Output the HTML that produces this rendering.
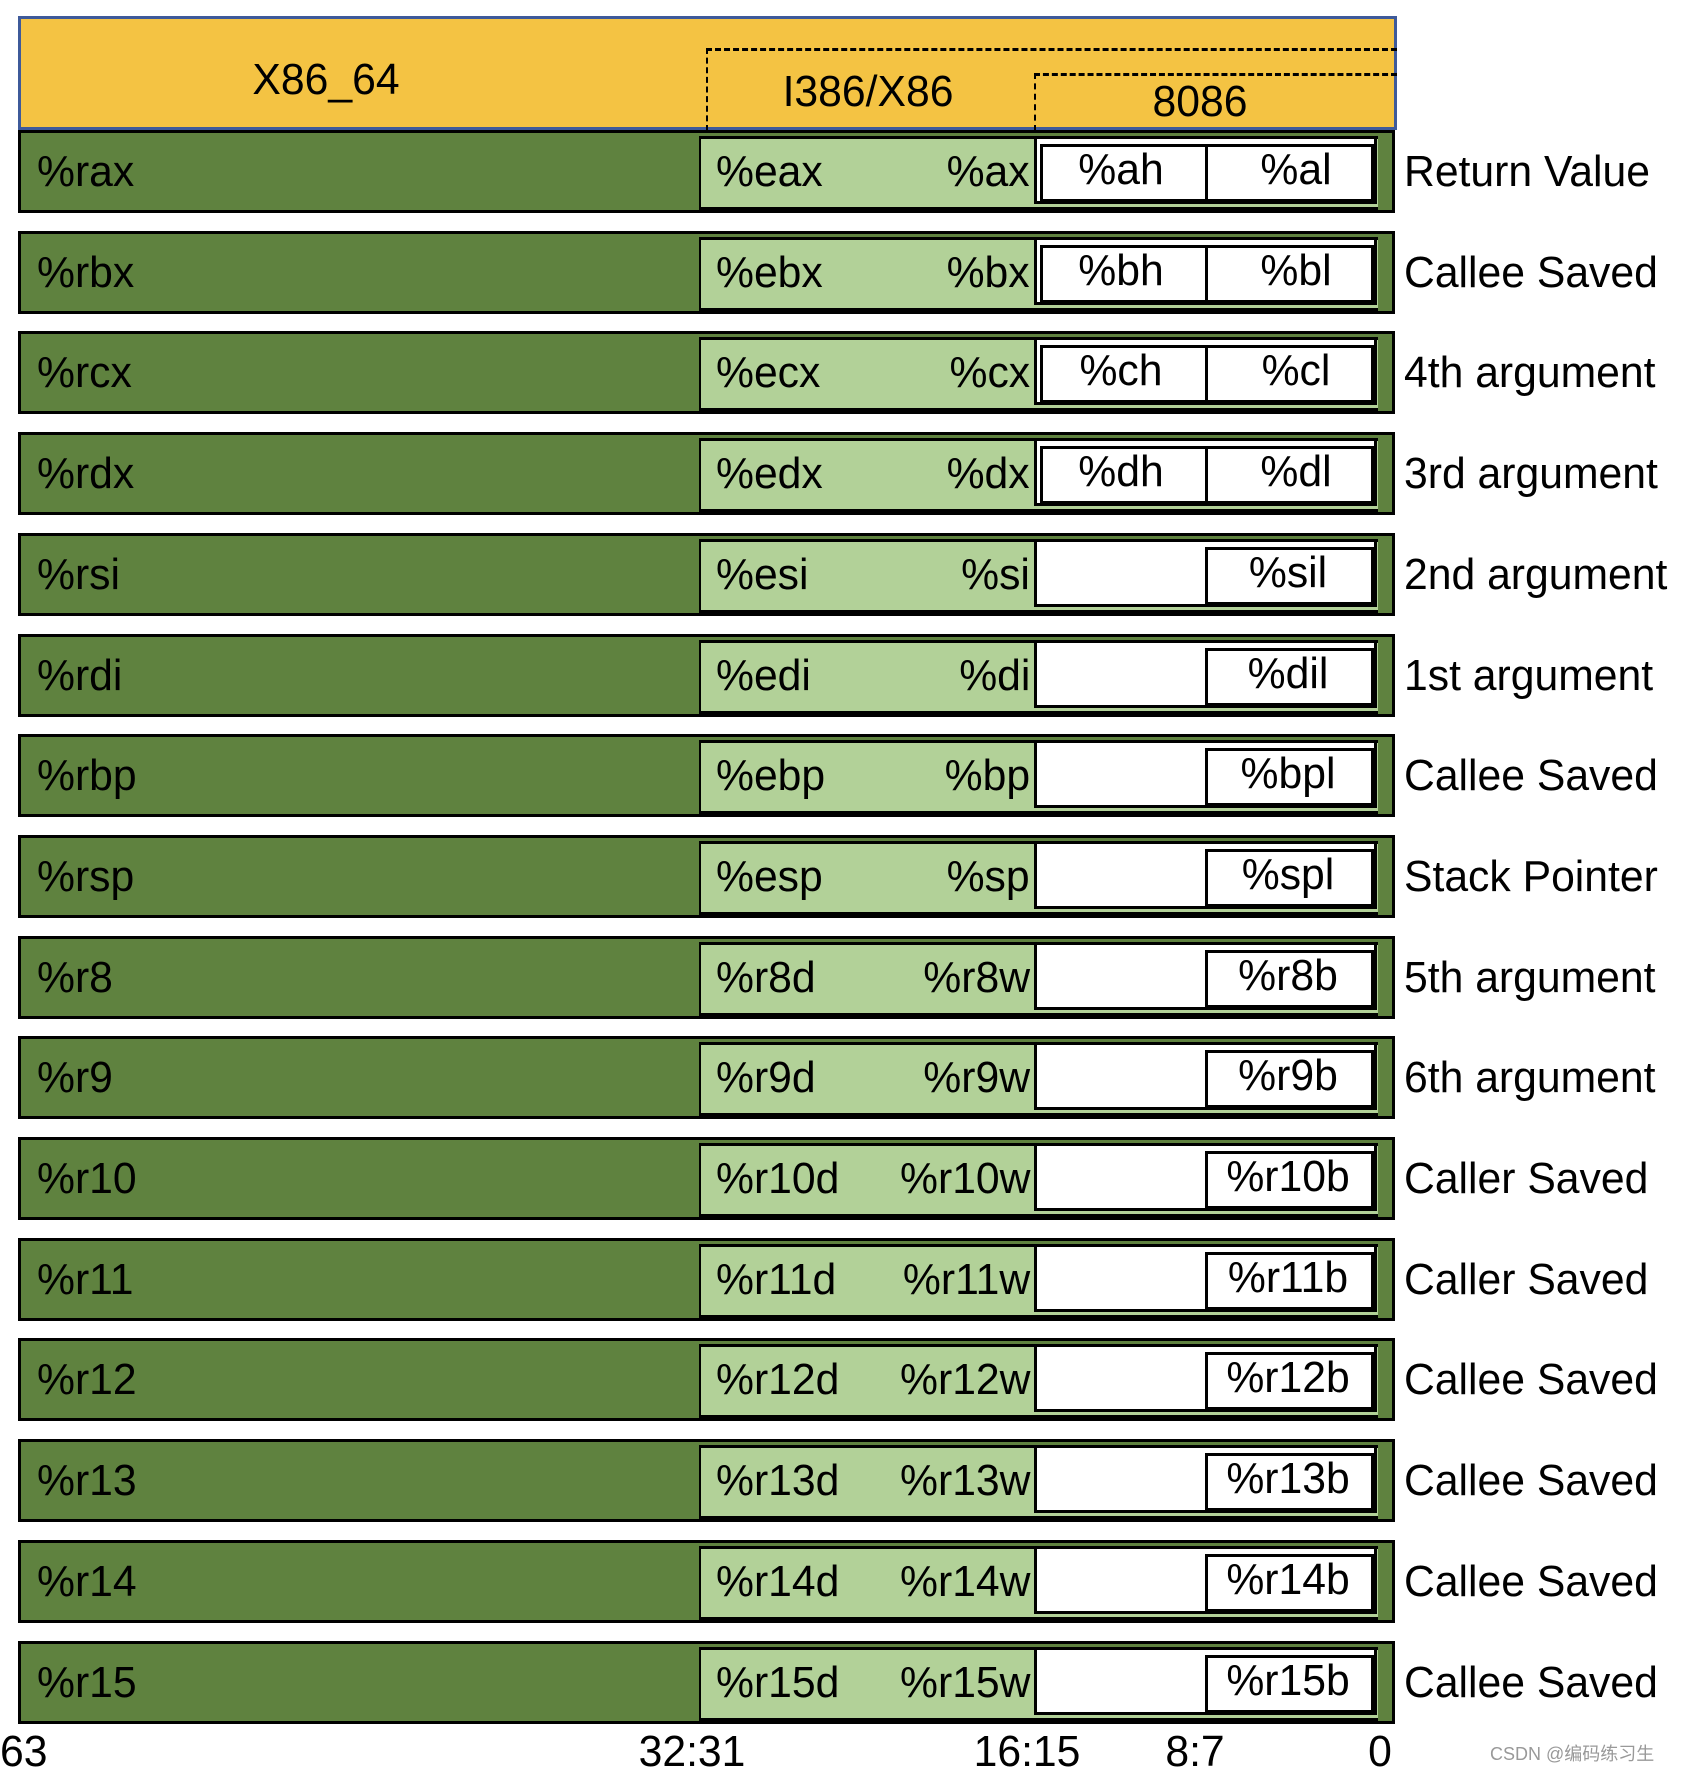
<!DOCTYPE html>
<html><head><meta charset="utf-8">
<style>
body{margin:0;width:1686px;height:1774px;background:#fff;position:relative;overflow:hidden;font-family:"Liberation Sans",sans-serif;}
.a{position:absolute;}
.t{position:absolute;font-size:44px;color:#000;white-space:nowrap;transform:scaleX(0.97);transform-origin:left center;line-height:1;}
.c{transform:translateX(-50%) scaleX(0.97);transform-origin:center center;}
</style></head><body>
<div class="a" style="left:18px;top:16px;width:1373px;height:108px;background:#f4c343;border:3px solid #3e5a9a;"></div>
<div class="a" style="left:706px;top:48px;width:689px;height:80px;border-top:3px dashed #000;border-left:2px dashed #000;"></div>
<div class="a" style="left:1034px;top:73px;width:361px;height:55px;border-top:3px dashed #000;border-left:2px dashed #000;"></div>
<div class="t c" style="left:326px;top:58px;">X86_64</div>
<div class="t c" style="left:868px;top:70px;">I386/X86</div>
<div class="t c" style="left:1200px;top:80px;">8086</div>
<div id="rows"></div>
<div class="t" style="left:0px;top:1730px;">63</div>
<div class="t c" style="left:692px;top:1730px;">32:31</div>
<div class="t c" style="left:1027px;top:1730px;">16:15</div>
<div class="t c" style="left:1195px;top:1730px;">8:7</div>
<div class="t c" style="left:1380px;top:1730px;">0</div>
<div class="a" style="left:1490px;top:1740px;font-size:18px;color:#999;">CSDN @编码练习生</div>
<script>
const r64=["%rax","%rbx","%rcx","%rdx","%rsi","%rdi","%rbp","%rsp","%r8","%r9","%r10","%r11","%r12","%r13","%r14","%r15"];
const r32=["%eax","%ebx","%ecx","%edx","%esi","%edi","%ebp","%esp","%r8d","%r9d","%r10d","%r11d","%r12d","%r13d","%r14d","%r15d"];
const r16=["%ax","%bx","%cx","%dx","%si","%di","%bp","%sp","%r8w","%r9w","%r10w","%r11w","%r12w","%r13w","%r14w","%r15w"];
const rhi=["%ah","%bh","%ch","%dh","","","","","","","","","","","",""];
const rlo=["%al","%bl","%cl","%dl","%sil","%dil","%bpl","%spl","%r8b","%r9b","%r10b","%r11b","%r12b","%r13b","%r14b","%r15b"];
const uses=["Return Value","Callee Saved","4th argument","3rd argument","2nd argument","1st argument","Callee Saved","Stack Pointer","5th argument","6th argument","Caller Saved","Caller Saved","Callee Saved","Callee Saved","Callee Saved","Callee Saved"];
const root=document.getElementById('rows');
function mk(style,text,cls){const d=document.createElement('div');d.className=cls||'a';d.style.cssText=style;if(text!==undefined)d.textContent=text;root.appendChild(d);return d;}
r64.forEach((n,i)=>{
  const y=130+i*100.7;
  let e;
  e=mk(`left:18px;top:${y}px;width:1371px;height:77px;background:#5f823f;border:3px solid #000;`);
  
  
  e=mk(`left:699px;top:${y+6}px;width:677px;height:68px;background:#b2d198;border-top:3px solid #000;border-bottom:3px solid #000;border-left:2px solid #000;`);
  
  
  e=mk(`left:1034px;top:${y+6}px;width:343px;height:68px;background:#fff;border:3px solid #000;box-sizing:border-box;`);
  
  
  if(rhi[i]){
    e=mk(`left:1040px;top:${y+14}px;width:328px;height:52px;border:3px solid #000;`);
    
    
    e=mk(`left:1205px;top:${y+14}px;width:3px;height:58px;background:#000;`);
    
    
    e=mk(`left:1121px;top:${y+18}px;`,rhi[i],'t c');
    
    
  } else {
    e=mk(`left:1205px;top:${y+14}px;width:163px;height:52px;border:3px solid #000;`);
    
    
  }
  e=mk(`left:${rhi[i]?1296:1288}px;top:${y+18}px;`,rlo[i],'t c');
  
  
  e=mk(`left:37px;top:${y+20}px;`,n,'t');
  
  
  e=mk(`left:716px;top:${y+20}px;`,r32[i],'t');
  
  
  e=mk(`right:${1686-1030}px;top:${y+20}px;transform-origin:right center;`,r16[i],'t');
  
  
  e=mk(`left:1404px;top:${y+20}px;`,uses[i],'t');
  
  
});
</script>
</body></html>
